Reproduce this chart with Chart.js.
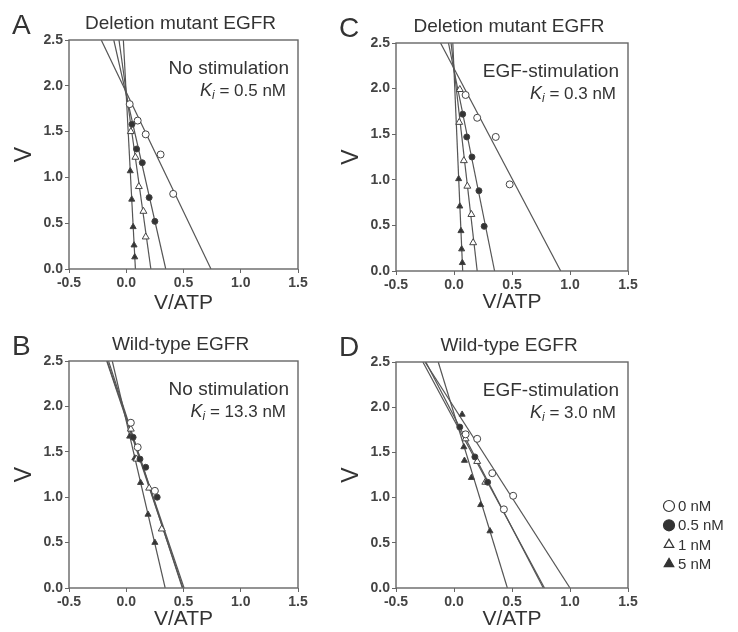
<!DOCTYPE html>
<html>
<head>
<meta charset="utf-8">
<script src="https://cdn.jsdelivr.net/npm/chart.js@4.4.1/dist/chart.umd.min.js"></script>
<style>
  html, body { margin: 0; padding: 0; background: #fff; }
  body { width: 738px; height: 632px; position: relative; overflow: hidden; }
  canvas { position: absolute; }
</style>
</head>
<body>
<canvas id="chartA" width="330" height="320" style="left:0;top:0"></canvas>
<canvas id="chartC" width="330" height="320" style="left:327px;top:0"></canvas>
<canvas id="chartB" width="330" height="312" style="left:0;top:320px"></canvas>
<canvas id="chartD" width="411" height="312" style="left:327px;top:320px"></canvas>
<script>
const FONT = "'Liberation Sans', Arial, sans-serif";

// ======================
// DATA
// ======================
const CONC = ['0 nM', '0.5 nM', '1 nM', '5 nM'];
const X_TICKS = [-0.5, 0, 0.5, 1, 1.5];
const Y_TICKS = [0, 0.5, 1, 1.5, 2, 2.5];

// A: deletion mutant, no stimulation
const A_vmax = [1.93, 1.9, 1.93, 1.9];
const A_xint = [0.74, 0.345, 0.215, 0.08];
const A_x = [[0.03, 0.10, 0.17, 0.30, 0.41], [0.05, 0.09, 0.14, 0.20, 0.25], [0.04, 0.08, 0.11, 0.15, 0.17], [0.035, 0.048, 0.06, 0.068, 0.074]];
const A_y = [[1.80, 1.62, 1.47, 1.25, 0.82], [1.58, 1.31, 1.16, 0.78, 0.52], [1.50, 1.22, 0.90, 0.63, 0.35], [1.07, 0.76, 0.46, 0.26, 0.13]];

// C: deletion mutant, EGF-stimulation
const C_vmax = [2.22, 2.2, 2.22, 2.2];
const C_xint = [0.92, 0.35, 0.2, 0.075];
const C_x = [[0.10, 0.20, 0.36, 0.48], [0.075, 0.11, 0.155, 0.215, 0.26], [0.05, 0.045, 0.085, 0.115, 0.15, 0.165], [0.04, 0.05, 0.06, 0.066, 0.072]];
const C_y = [[1.93, 1.68, 1.47, 0.95], [1.72, 1.47, 1.25, 0.88, 0.49], [1.99, 1.63, 1.21, 0.93, 0.62, 0.31], [1.01, 0.71, 0.44, 0.24, 0.09]];

// B: wild-type, no stimulation
const B_vmax = [1.88, 1.86, 1.9, 1.84];
const B_xint = [0.505, 0.495, 0.49, 0.34];
const B_x = [[0.04, 0.10, 0.25], [0.06, 0.12, 0.17, 0.27], [0.04, 0.09, 0.20, 0.31], [0.03, 0.075, 0.125, 0.19, 0.25]];
const B_y = [[1.82, 1.55, 1.07], [1.66, 1.42, 1.33, 1.0], [1.75, 1.42, 1.10, 0.65], [1.67, 1.43, 1.16, 0.81, 0.50]];

// D: wild-type, EGF-stimulation
const D_vmax = [2.0, 1.86, 1.9, 1.93];
const D_xint = [1.0, 0.78, 0.77, 0.46];
const D_x = [[0.10, 0.20, 0.33, 0.43, 0.51], [0.05, 0.18, 0.29], [0.10, 0.20, 0.27], [0.07, 0.085, 0.09, 0.15, 0.23, 0.31]];
const D_y = [[1.70, 1.65, 1.27, 0.87, 1.02], [1.78, 1.45, 1.17], [1.65, 1.40, 1.17], [1.92, 1.56, 1.41, 1.22, 0.92, 0.63]];

// marker looks per concentration
const MARK_STYLE = ['circle', 'circle', 'triangle', 'triangle'];
const MARK_FILL = ['#fff', '#333', '#fff', '#333'];
const MARK_R = [3.5, 3, 4, 3.5];

Chart.defaults.font.family = FONT;
Chart.defaults.animation = false;

// ======================
// DATASETS
// ======================
function buildDatasets(xs, ys, xint, vmax) {
  const yTop = Y_TICKS[Y_TICKS.length - 1];
  const sets = [];
  CONC.forEach((c, i) => {
    sets.push({
      label: c,
      data: xs[i].map((x, j) => ({ x, y: ys[i][j] })),
      showLine: false,
      pointStyle: MARK_STYLE[i],
      pointRadius: MARK_R[i],
      pointBackgroundColor: MARK_FILL[i],
      pointBorderColor: '#444',
      pointBorderWidth: 1,
      order: 0
    });
    // fitted line from x-intercept up to the top of the axis
    sets.push({
      label: c + ' fit',
      data: [{ x: xint[i], y: 0 }, { x: xint[i] * (1 - yTop / vmax[i]), y: yTop }],
      showLine: true,
      pointRadius: 0,
      borderColor: '#555',
      borderWidth: 1.2,
      order: 1
    });
  });
  return sets;
}

// ======================
// KI TEXT
// ======================
function drawKi(ctx, value, right, y) {
  const rest = ' = ' + value + ' nM';
  ctx.font = `italic 18px ${FONT}`;
  const wK = ctx.measureText('K').width;
  ctx.font = `italic 12px ${FONT}`;
  const wI = ctx.measureText('i').width;
  ctx.font = `17px ${FONT}`;
  const wR = ctx.measureText(rest).width;
  let x = right - (wK + wI + wR);
  ctx.textAlign = 'left';
  ctx.font = `italic 18px ${FONT}`;
  ctx.fillText('K', x, y);
  x += wK;
  ctx.font = `italic 12px ${FONT}`;
  ctx.fillText('i', x, y + 5);
  x += wI;
  ctx.font = `17px ${FONT}`;
  ctx.fillText(rest, x, y);
}

// ======================
// LEGEND (panel D only)
// ======================
function drawLegend(ctx, x, y) {
  CONC.forEach((c, i) => {
    const cy = y + i * 19.3;
    ctx.fillStyle = MARK_FILL[i];
    ctx.strokeStyle = '#333';
    ctx.lineWidth = 1.2;
    Chart.helpers.drawPoint(ctx, {
      pointStyle: MARK_STYLE[i], rotation: 0, radius: 5.5, borderWidth: 1.2
    }, x, cy);
    ctx.fillStyle = '#333';
    ctx.font = `15px ${FONT}`;
    ctx.textAlign = 'left';
    ctx.fillText(c, x + 9, cy + 1);
  });
}

const panelDecor = {
  id: 'panelDecor',
  afterDraw(chart, _args, opts) {
    const { ctx, chartArea: a } = chart;
    ctx.save();
    ctx.strokeStyle = '#666';
    ctx.lineWidth = 1.4;
    ctx.strokeRect(a.left, a.top, a.right - a.left, a.bottom - a.top);

    ctx.fillStyle = '#333';
    ctx.textBaseline = 'middle';
    ctx.font = `28px ${FONT}`;
    ctx.textAlign = 'left';
    ctx.fillText(opts.letter, 12, a.top - 14);

    ctx.font = `19px ${FONT}`;
    ctx.textAlign = 'center';
    ctx.fillText(opts.title, (a.left + a.right) / 2 - 3, a.top - 16);

    ctx.textAlign = 'right';
    ctx.fillText(opts.condition, a.right - 9, a.top + 29);
    drawKi(ctx, opts.ki, a.right - 12, a.top + 51);

    if (opts.legend) drawLegend(ctx, 342, 186);
    ctx.restore();
  }
};

// ======================
// PANEL
// ======================
function renderPanel(canvasId, data, opt) {
  const canvas = document.getElementById(canvasId);
  if (!canvas || typeof Chart === 'undefined') return;

  const tickFont = { size: 14, weight: 'bold' };

  new Chart(canvas, {
    type: 'scatter',
    data: { datasets: buildDatasets(data.x, data.y, data.xint, data.vmax) },
    options: {
      responsive: false,
      layout: { padding: { top: opt.top, right: opt.right, left: 0, bottom: 0 } },
      plugins: {
        legend: { display: false },
        tooltip: { enabled: false },
        panelDecor: opt.text
      },
      scales: {
        x: {
          type: 'linear',
          min: X_TICKS[0],
          max: X_TICKS[X_TICKS.length - 1],
          afterBuildTicks: s => { s.ticks = X_TICKS.map(v => ({ value: v })); },
          afterFit: s => { s.height = opt.xh; },
          ticks: {
            callback: v => Number(v).toFixed(1),
            font: tickFont, color: '#444', padding: 2,
            maxRotation: 0, autoSkip: false
          },
          grid: { drawOnChartArea: false, tickLength: 4, color: '#666' },
          border: { display: false },
          title: {
            display: true, text: 'V/ATP', color: '#333',
            font: { size: 21 }, padding: { top: 0, bottom: opt.xtPad }
          }
        },
        y: {
          type: 'linear',
          min: Y_TICKS[0],
          max: Y_TICKS[Y_TICKS.length - 1],
          afterBuildTicks: s => { s.ticks = Y_TICKS.map(v => ({ value: v })); },
          afterFit: s => { s.width = 69; },
          ticks: {
            callback: v => Number(v).toFixed(1),
            font: tickFont, color: '#444', padding: 2, autoSkip: false
          },
          grid: { drawOnChartArea: false, tickLength: 4, color: '#666' },
          border: { display: false },
          title: {
            display: true, text: 'V', color: '#333',
            font: { size: 23 }, padding: { top: 11, bottom: 0 }
          }
        }
      }
    },
    plugins: [panelDecor]
  });
}

renderPanel('chartA', { x: A_x, y: A_y, xint: A_xint, vmax: A_vmax }, {
  top: 40, right: 32, xh: 51, xtPad: 4,
  text: { letter: 'A', title: 'Deletion mutant EGFR', condition: 'No stimulation', ki: '0.5' }
});
renderPanel('chartC', { x: C_x, y: C_y, xint: C_xint, vmax: C_vmax }, {
  top: 43, right: 29, xh: 49, xtPad: 5,
  text: { letter: 'C', title: 'Deletion mutant EGFR', condition: 'EGF-stimulation', ki: '0.3' }
});
renderPanel('chartB', { x: B_x, y: B_y, xint: B_xint, vmax: B_vmax }, {
  top: 41, right: 32, xh: 44, xtPad: 0,
  text: { letter: 'B', title: 'Wild-type EGFR', condition: 'No stimulation', ki: '13.3' }
});
renderPanel('chartD', { x: D_x, y: D_y, xint: D_xint, vmax: D_vmax }, {
  top: 42, right: 110, xh: 44, xtPad: 0,
  text: { letter: 'D', title: 'Wild-type EGFR', condition: 'EGF-stimulation', ki: '3.0', legend: true }
});
</script>
</body>
</html>
